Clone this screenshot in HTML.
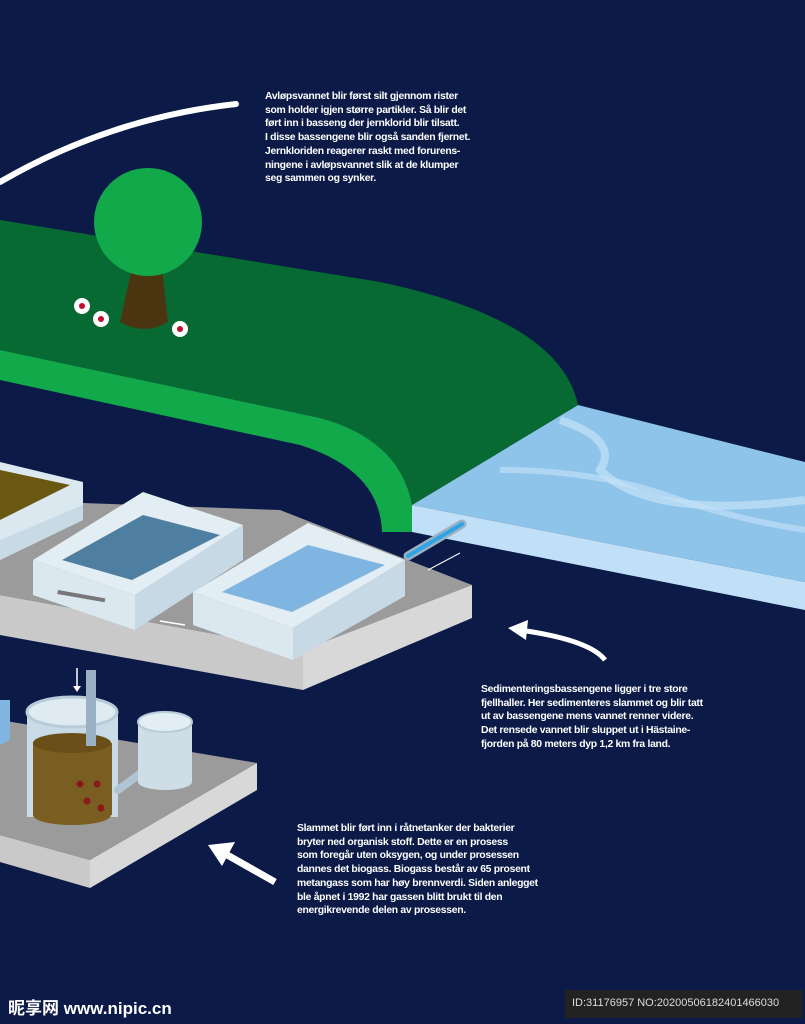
<!DOCTYPE html>
<html><head><meta charset="utf-8"><style>
html,body{margin:0;padding:0;background:#0b1a47;}
.wrap{position:relative;width:805px;height:1024px;overflow:hidden;background:#0b1a47;font-family:"Liberation Sans",sans-serif;}
.t{position:absolute;color:#fff;font-weight:bold;font-size:10.4px;line-height:13.7px;letter-spacing:-0.3px;white-space:nowrap;}
</style></head><body><div class="wrap">
<svg width="805" height="1024" style="position:absolute;left:0;top:0">
<path d="M0,182 Q110,118 236,104" stroke="#fff" stroke-width="6" fill="none" stroke-linecap="round"/>
<polygon points="578,405 805,462 805,582 412,505" fill="#8ec3ea"/>
<polygon points="412,505 805,582 805,610 412,532" fill="#bfe0f6"/>
<path d="M560,420 Q620,440 600,470 Q650,520 805,500" stroke="#c5e3f7" stroke-width="8" fill="none" opacity="0.7"/>
<path d="M500,470 Q600,470 680,500 Q740,520 805,530" stroke="#c5e3f7" stroke-width="6" fill="none" opacity="0.6"/>
<path d="M0,220 L380,282 Q560,320 578,405 L412,505 Q400,440 320,418 L0,350 Z" fill="#086a33"/>
<path d="M0,350 L320,418 Q400,440 412,505 L412,532 L382,532 Q380,470 300,445 L0,380 Z" fill="#12a94b"/>
<path d="M132,268 L162,268 L168,322 Q145,336 120,322 Z" fill="#4a3510"/>
<circle cx="148" cy="222" r="54" fill="#12a94b"/>
<g fill="#fff"><circle cx="82" cy="306" r="8"/><circle cx="101" cy="319" r="8"/><circle cx="180" cy="329" r="8"/></g>
<g fill="#c0102a"><circle cx="82" cy="306" r="3"/><circle cx="101" cy="319" r="3"/><circle cx="180" cy="329" r="3"/></g>
<polygon points="0,500 280,510 472,585 303,650 0,595" fill="#9b9b9b"/>
<polygon points="0,595 303,650 303,690 0,635" fill="#c9c9c9"/>
<polygon points="303,650 472,585 472,618 303,690" fill="#d8d8d8"/>
<polygon points="0,462 83,482 83,520 0,560" fill="#dbe8f0"/>
<polygon points="0,470 70,485 0,520" fill="#6b5810"/>
<polygon points="0,540 83,505 83,520 0,560" fill="#c8dae6"/>
<polygon points="33,560 143,492 243,525 135,595" fill="#e2edf4"/>
<polygon points="62,560 143,515 220,535 132,580" fill="#4f7fa0"/>
<polygon points="33,560 135,595 135,630 33,595" fill="#dbe8f0"/>
<polygon points="135,595 243,525 243,560 135,630" fill="#c6d9e5"/>
<rect x="58" y="590" width="48" height="4" fill="#777" transform="rotate(10 58 590)"/>
<polygon points="193,592 308,523 405,560 293,628" fill="#e2edf4"/>
<polygon points="222,592 308,545 385,565 292,612" fill="#7fb5e0"/>
<polygon points="193,592 293,628 293,660 193,625" fill="#dbe8f0"/>
<polygon points="293,628 405,560 405,596 293,660" fill="#c6d9e5"/>
<line x1="408" y1="556" x2="462" y2="524" stroke="#9bb0c0" stroke-width="9" stroke-linecap="round"/>
<line x1="408" y1="556" x2="462" y2="524" stroke="#2ea4e8" stroke-width="4" stroke-linecap="round"/>
<line x1="428" y1="570" x2="460" y2="553" stroke="#fff" stroke-width="1"/>
<line x1="160" y1="621" x2="185" y2="625" stroke="#fff" stroke-width="1.5"/>
<polygon points="0,720 257,763 90,860 0,835" fill="#9b9b9b"/>
<polygon points="0,835 90,860 90,888 0,862" fill="#c9c9c9"/>
<polygon points="90,860 257,763 257,790 90,888" fill="#d8d8d8"/>
<rect x="27" y="712" width="91" height="105" fill="#c9dbe6"/>
<ellipse cx="72" cy="712" rx="45" ry="15" fill="#dfeaf1" stroke="#b8ccd8" stroke-width="3"/>
<rect x="33" y="743" width="79" height="72" fill="#7a5d20"/>
<ellipse cx="72" cy="743" rx="39" ry="10" fill="#6a5018"/>
<ellipse cx="72" cy="815" rx="39" ry="10" fill="#7a5d20"/>
<rect x="86" y="670" width="10" height="76" fill="#9ab0c4"/>
<line x1="118" y1="790" x2="152" y2="765" stroke="#b0c4d4" stroke-width="8" stroke-linecap="round"/>
<g fill="#8b1a1a"><circle cx="80" cy="784" r="3.5"/><circle cx="97" cy="784" r="3.5"/><circle cx="87" cy="801" r="3.5"/><circle cx="101" cy="808" r="3.5"/></g>
<rect x="138" y="722" width="54" height="60" fill="#cfdde7"/>
<ellipse cx="165" cy="722" rx="27" ry="10" fill="#e2edf4" stroke="#b8ccd8" stroke-width="2"/>
<ellipse cx="165" cy="782" rx="27" ry="8" fill="#cfdde7"/>
<polygon points="0,700 10,700 10,740 0,745" fill="#7fb5e0"/>
<line x1="77" y1="668" x2="77" y2="688" stroke="#fff" stroke-width="1.5"/>
<polygon points="73,686 81,686 77,692" fill="#fff"/>
<path d="M520,630 Q590,640 605,660" stroke="#fff" stroke-width="5" fill="none"/>
<polygon points="508,628 528,620 526,640" fill="#fff"/>
<line x1="222" y1="852" x2="275" y2="882" stroke="#fff" stroke-width="7"/>
<polygon points="208,845 235,842 222,866" fill="#fff"/>
<rect x="565" y="990" width="238" height="28" fill="#222"/>
</svg>
<div class="t" style="left:265px;top:90px">Avløpsvannet blir først silt gjennom rister<br>som holder igjen større partikler. Så blir det<br>ført inn i basseng der jernklorid blir tilsatt.<br>I disse bassengene blir også sanden fjernet.<br>Jernkloriden reagerer raskt med forurens-<br>ningene i avløpsvannet slik at de klumper<br>seg sammen og synker.</div>
<div class="t" style="left:481px;top:683px">Sedimenteringsbassengene ligger i tre store<br>fjellhaller. Her sedimenteres slammet og blir tatt<br>ut av bassengene mens vannet renner videre.<br>Det rensede vannet blir sluppet ut i Hästaine-<br>fjorden på 80 meters dyp 1,2 km fra land.</div>
<div class="t" style="left:297px;top:822px">Slammet blir ført inn i råtnetanker der bakterier<br>bryter ned organisk stoff. Dette er en prosess<br>som foregår uten oksygen, og under prosessen<br>dannes det biogass. Biogass består av 65 prosent<br>metangass som har høy brennverdi. Siden anlegget<br>ble åpnet i 1992 har gassen blitt brukt til den<br>energikrevende delen av prosessen.</div>
<div style="position:absolute;left:8px;top:994px;color:#fff;font:bold 17px 'Liberation Sans','Noto Sans CJK SC',sans-serif;">昵享网 www.nipic.cn</div>
<div style="position:absolute;left:572px;top:997px;color:#ddd;font:11px 'Liberation Sans',sans-serif;">ID:31176957 NO:20200506182401466030</div>
</div></body></html>
